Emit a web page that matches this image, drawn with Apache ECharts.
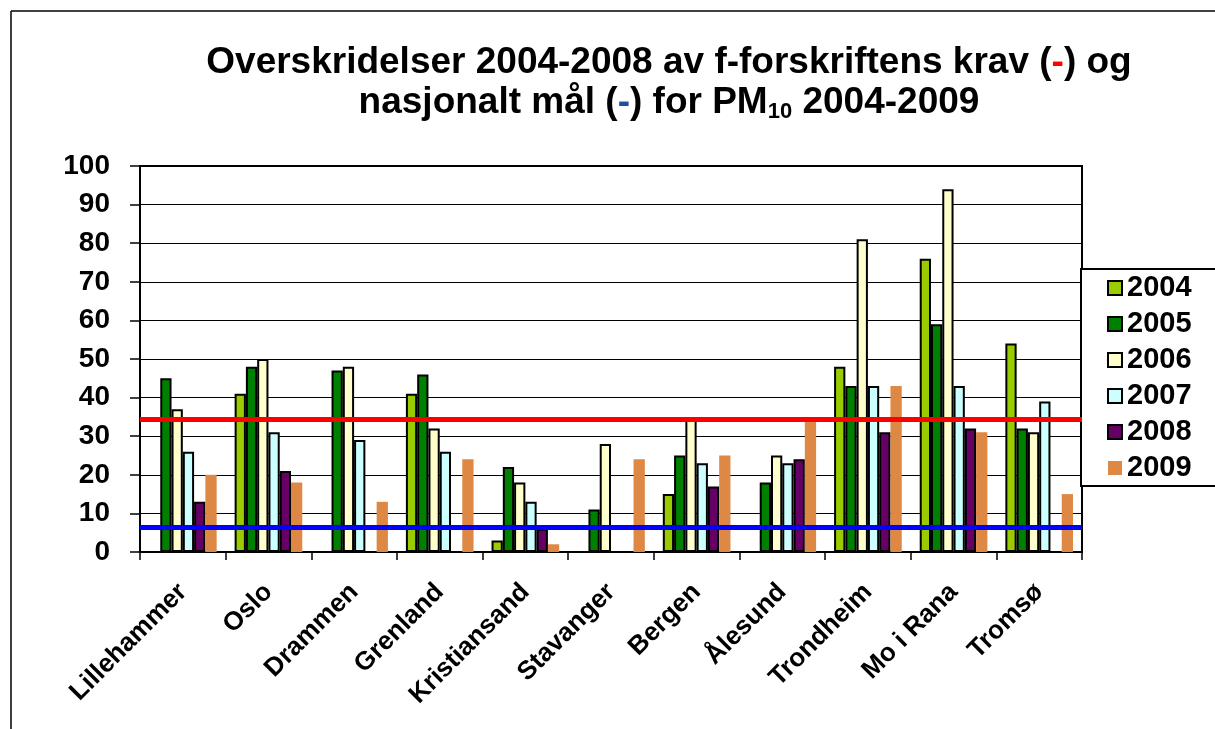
<!DOCTYPE html>
<html>
<head>
<meta charset="utf-8">
<script src="https://cdn.jsdelivr.net/npm/echarts@6/dist/echarts.min.js"></script>
<style>
html,body{margin:0;padding:0;background:#fff;}
#chart{width:1215px;height:729px;}
</style>
</head>
<body>
<div id="chart"></div>
<script>
var categories = ['Lillehammer','Oslo','Drammen','Grenland','Kristiansand','Stavanger','Bergen','Ålesund','Trondheim','Mo i Rana','Tromsø'];
var years = ['2004','2005','2006','2007','2008','2009'];
var v2004 = [null, 41, null, 41, 3, null, 15, null, 48, 76, 54];
var v2005 = [45, 48, 47, 46, 22, 11, 25, 18, 43, 59, 32];
var v2006 = [37, 50, 48, 32, 18, 28, 35, 25, 81, 94, 31];
var v2007 = [26, 31, 29, 26, 13, null, 23, 23, 43, 43, 39];
var v2008 = [13, 21, null, null, 6, null, 17, 24, 31, 32, null];
var v2009 = [20, 18, 13, 24, 2, 24, 25, 34, 43, 31, 15];
var limitRed = 34.5;   // f-forskriftens krav
var limitBlue = 6.5;   // nasjonalt mål
var yTicks = [0,10,20,30,40,50,60,70,80,90,100];

var values = [v2004, v2005, v2006, v2007, v2008, v2009];
var colors = ['#99CC00','#008000','#FFFFCC','#CCFFFF','#660066','#DD8844'];
var FONT = '"Liberation Sans", Arial, sans-serif';

var series = years.map(function(y, i){
  return {
    name: y,
    type: 'bar',
    data: values[i],
    barGap: '0%',
    barCategoryGap: '21%',
    itemStyle: {
      color: colors[i],
      borderColor: i === 5 ? 'transparent' : '#000',
      borderWidth: i === 5 ? 0 : 2
    }
  };
});
series.push({
  name: 'limits',
  type: 'line',
  data: [],
  z: 10,
  markLine: {
    silent: true,
    symbol: ['none','none'],
    label: {show: false},
    data: [
      {yAxis: limitRed, lineStyle: {color: '#FF0000', width: 5, type: 'solid'}},
      {yAxis: limitBlue, lineStyle: {color: '#0000FF', width: 5, type: 'solid'}}
    ]
  }
});

var chart = echarts.init(document.getElementById('chart'));
chart.setOption({
  animation: false,
  backgroundColor: '#fff',
  title: {
    left: 664,
    top: 38,
    textAlign: 'center',
    text: 'Overskridelser 2004-2008 av f-forskriftens krav ({r|-}) og\nnasjonalt mål ({b|-}) for PM{s|10} 2004-2009',
    textStyle: {
      fontFamily: FONT,
      fontWeight: 'bold',
      fontSize: 37,
      lineHeight: 40,
      color: '#000',
      rich: {
        r: {color: '#FF0000', fontFamily: FONT, fontWeight: 'bold', fontSize: 37, lineHeight: 40},
        b: {color: '#1F4E9A', fontFamily: FONT, fontWeight: 'bold', fontSize: 37, lineHeight: 40},
        s: {color: '#000', fontFamily: FONT, fontWeight: 'bold', fontSize: 22, lineHeight: 40, verticalAlign: 'bottom'}
      }
    }
  },
  grid: {left: 140, top: 166, right: 133, bottom: 177, show: true, borderColor: '#000', borderWidth: 2, backgroundColor: 'transparent'},
  legend: {
    orient: 'vertical',
    left: 1081,
    top: 269,
    data: years,
    icon: 'rect',
    itemWidth: 14,
    itemHeight: 14,
    itemGap: 0,
    padding: [1, 40, 0, 26],
    borderColor: '#000',
    borderWidth: 2,
    backgroundColor: '#fff',
    textStyle: {fontFamily: FONT, fontWeight: 'bold', fontSize: 29, color: '#000', lineHeight: 36}
  },
  xAxis: {
    type: 'category',
    data: categories,
    axisLine: {lineStyle: {color: '#000', width: 2}},
    axisTick: {show: true, length: 8, lineStyle: {color: '#000', width: 1.5}},
    axisLabel: {rotate: 45, margin: 36, interval: 0, fontFamily: FONT, fontWeight: 'bold', fontSize: 26, color: '#000'}
  },
  yAxis: {
    type: 'value',
    min: yTicks[0],
    max: yTicks[yTicks.length-1],
    interval: 10,
    axisLine: {show: true, lineStyle: {color: '#000', width: 2}},
    axisTick: {show: true, length: 10, lineStyle: {color: '#000', width: 1.5}},
    splitLine: {lineStyle: {color: '#000', width: 1}},
    axisLabel: {margin: 30, fontFamily: FONT, fontWeight: 'bold', fontSize: 28, color: '#000'}
  },
  graphic: [
    {type: 'line', shape: {x1: 11, y1: 11, x2: 11, y2: 729}, style: {stroke: '#000', lineWidth: 1.5}, z: 100},
    {type: 'line', shape: {x1: 11, y1: 11, x2: 1215, y2: 11}, style: {stroke: '#000', lineWidth: 1.5}, z: 100}
  ],
  series: series
});
</script>
</body>
</html>
